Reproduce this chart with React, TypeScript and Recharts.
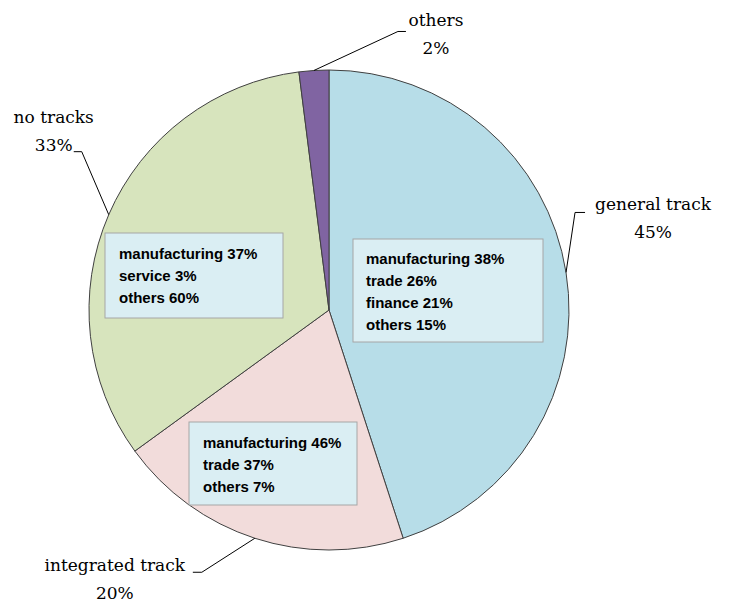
import { PieChart, Pie, Cell } from 'recharts';

const categories = ['general track', 'integrated track', 'no tracks', 'others'];
const shares = [45, 20, 33, 2];
const sliceColors = ['#B7DDE8', '#F2DCDB', '#D7E4BD', '#8064A2'];

// breakdown inside each slice
const generalItems = ['manufacturing', 'trade', 'finance', 'others'];
const generalShares = [38, 26, 21, 15];
const integratedItems = ['manufacturing', 'trade', 'others'];
const integratedShares = [46, 37, 7];
const noTrackItems = ['manufacturing', 'service', 'others'];
const noTrackShares = [37, 3, 60];

const breakdowns = [
  { items: generalItems, shares: generalShares },
  { items: integratedItems, shares: integratedShares },
  { items: noTrackItems, shares: noTrackShares },
  null,
];

const data = categories.map((name, i) => ({ name, value: shares[i] }));

// leader line + outside label offsets, relative to the slice's mid point on the rim
const labelLayout = [
  { elbow: [9, -60], end: [19, -60], text: [87, -68] },
  { elbow: [-53, 34], end: [-62, 34], text: [-140, 27] },
  { elbow: [-27, -63], end: [-35, -63], text: [-55, -98] },
  { elbow: [84, -39], end: [92, -39], text: [122, -50] },
];

// breakdown boxes, relative to the pie centre
const boxLayout = [
  { x: 24, y: -71, w: 190, h: 103, tx: 37, ty: -52 },
  { x: -140, y: 112, w: 168, h: 83, tx: -126, ty: 132 },
  { x: -224, y: -77, w: 178, h: 85, tx: -210, ty: -57 },
  null,
];

const RAD = Math.PI / 180;
const labelFont = '"DejaVu Serif", serif';
const boxFont = '"Liberation Sans", Arial, sans-serif';

function renderLabel(props: any) {
  const { cx, cy, midAngle, outerRadius, index, percent, name } = props;
  const lay = labelLayout[index];
  const ax = cx + outerRadius * Math.cos(-midAngle * RAD);
  const ay = cy + outerRadius * Math.sin(-midAngle * RAD);
  const pts = [
    [ax, ay],
    [ax + lay.elbow[0], ay + lay.elbow[1]],
    [ax + lay.end[0], ay + lay.end[1]],
  ];
  const tx = ax + lay.text[0];
  const ty = ay + lay.text[1];
  const box = boxLayout[index];
  const bd = breakdowns[index];
  return (
    <g>
      <polyline
        points={pts.map((p) => p.join(',')).join(' ')}
        fill="none"
        stroke="#000"
        strokeWidth={1}
      />
      <text x={tx} y={ty} textAnchor="middle" dominantBaseline="central" fontFamily={labelFont} fontSize={17} fill="#000">
        {name}
      </text>
      <text x={tx} y={ty + 28} textAnchor="middle" dominantBaseline="central" fontFamily={labelFont} fontSize={17} fill="#000">
        {Math.round(percent * 100)}%
      </text>
      {box && bd && (
        <g>
          <rect x={cx + box.x} y={cy + box.y} width={box.w} height={box.h} fill="#DAEEF3" stroke="#A6A6A6" strokeWidth={1} />
          {bd.items.map((item, i) => (
            <text
              key={item}
              x={cx + box.tx}
              y={cy + box.ty + i * 22}
              dominantBaseline="central"
              fontFamily={boxFont}
              fontWeight="bold"
              fontSize={15}
              fill="#000"
            >
              {item} {bd.shares[i]}%
            </text>
          ))}
        </g>
      )}
    </g>
  );
}

export default function App() {
  return (
    <div style={{ position: 'fixed', left: 0, top: 0, width: 733, height: 608, background: '#fff' }}>
      <PieChart width={733} height={608} margin={{ top: 0, right: 0, bottom: 0, left: 0 }}>
        <Pie
          data={data}
          dataKey="value"
          nameKey="name"
          cx={329}
          cy={310}
          outerRadius={240}
          startAngle={90}
          endAngle={-270}
          stroke="#404040"
          strokeWidth={1}
          label={renderLabel}
          labelLine={false}
          isAnimationActive={false}
        >
          {data.map((d, i) => (
            <Cell key={d.name} fill={sliceColors[i]} />
          ))}
        </Pie>
      </PieChart>
    </div>
  );
}
